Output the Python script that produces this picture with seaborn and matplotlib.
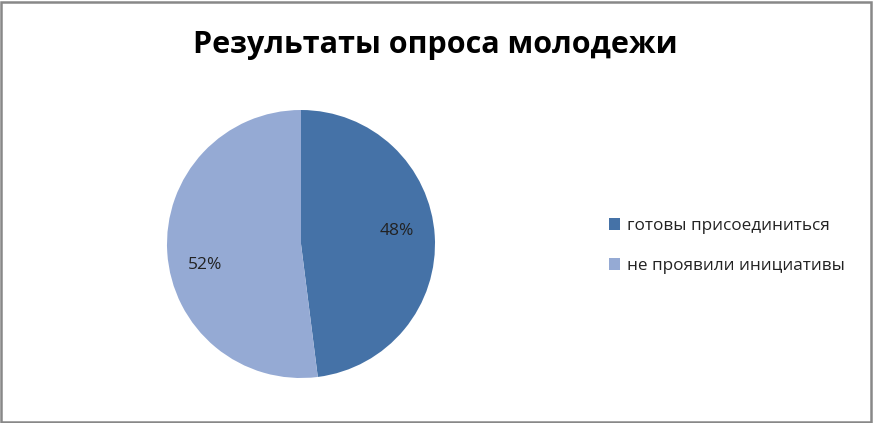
import matplotlib
matplotlib.use("Agg")
import matplotlib.pyplot as plt
import matplotlib.transforms as mtransforms
import seaborn as sns
from matplotlib.patches import Rectangle

categories = ["готовы присоединиться", "не проявили инициативы"]
values = [48, 52]
colors = ["#4572A7", "#95AAD4"]
title = "Результаты опроса молодежи"

sns.set_theme(style="white")
plt.rcParams['font.family'] = ['Open Sans', 'DejaVu Sans']

fig = plt.figure(figsize=(8.73, 4.23), dpi=100)
fig.patch.set_facecolor("white")

ax = fig.add_axes([167/873, 1 - 378/423, 268/873, 268/423])
wedges, texts, autotexts = ax.pie(
    values, colors=colors, startangle=90, counterclock=False,
    autopct="%d%%", pctdistance=0.72, radius=1.0,
    wedgeprops=dict(linewidth=0),
    textprops=dict(fontsize=12.5, color="#222222"))
ax.set_aspect("equal")
ax.set_xlim(-1, 1)
ax.set_ylim(-1, 1)
ax.axis("off")

# small vertical nudges of the percentage labels (in points)
label_offsets = [(0, 5), (0, -11)]
for t, (dx, dy) in zip(autotexts, label_offsets):
    t.set_transform(mtransforms.offset_copy(t.get_transform(), fig=fig,
                                            x=dx, y=dy, units="points"))

fig.text(435/873, 1 - 45/423, title, ha="center", va="center",
         fontsize=22, fontweight="bold", color="black")

leg = fig.legend(wedges, categories, loc="center left",
                 bbox_to_anchor=(594/873, 1 - 246/423), frameon=False,
                 fontsize=12.3, handlelength=0.65, handleheight=0.65,
                 handletextpad=0.4, labelspacing=1.4)
for t in leg.get_texts():
    t.set_color("#222222")

fig.add_artist(Rectangle((1/873, 1/423), 1 - 3/873, 1 - 3/423,
                         transform=fig.transFigure, fill=False,
                         edgecolor="#888888", linewidth=1.8))

fig.savefig("out.png", dpi=100)
